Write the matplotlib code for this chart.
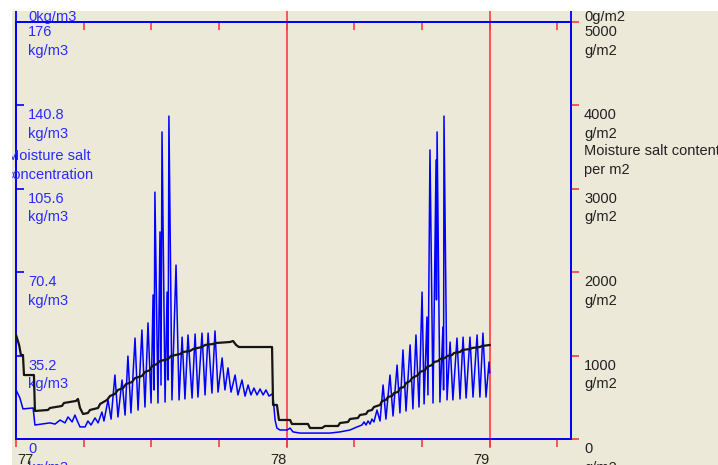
import numpy as np
import matplotlib.pyplot as plt
from matplotlib import font_manager
from matplotlib.patches import Rectangle
from matplotlib.lines import Line2D

# narrow font if there is one, otherwise a smaller regular one
installed = {f.name for f in font_manager.fontManager.ttflist}
if 'Liberation Sans Narrow' in installed:
    plt.rcParams['font.family'] = ['Liberation Sans Narrow', 'DejaVu Sans']
    fs, lsp = 12.5, 1.2
else:
    plt.rcParams['font.family'] = ['Liberation Sans', 'DejaVu Sans']
    fs, lsp = 10.5, 1.42

# -----------------------------
# Data
# -----------------------------
# moisture salt concentration (kg/m3), time in years
conc_year = [76.667, 76.686, 76.701, 76.751, 76.760, 76.834, 76.859, 76.884, 76.908, 76.923,
             76.943, 76.957, 76.967, 76.982, 77.007, 77.021, 77.036, 77.056, 77.071, 77.090,
             77.100, 77.120, 77.135, 77.154, 77.169, 77.189, 77.204, 77.218, 77.233, 77.253,
             77.268, 77.287, 77.302, 77.317, 77.332, 77.342, 77.347, 77.351, 77.366, 77.376,
             77.381, 77.386, 77.401, 77.411, 77.416, 77.420, 77.435, 77.455, 77.470, 77.485,
             77.499, 77.514, 77.534, 77.549, 77.563, 77.583, 77.598, 77.613, 77.632, 77.647,
             77.662, 77.682, 77.696, 77.711, 77.726, 77.746, 77.760, 77.780, 77.795, 77.810,
             77.824, 77.839, 77.854, 77.869, 77.884, 77.898, 77.913, 77.928, 77.933, 77.943,
             77.952, 77.967, 78.002, 78.017, 78.031, 78.066, 78.214, 78.263, 78.312, 78.347,
             78.371, 78.381, 78.391, 78.401, 78.411, 78.420, 78.430, 78.445, 78.460, 78.475,
             78.489, 78.509, 78.524, 78.544, 78.558, 78.573, 78.588, 78.608, 78.622, 78.637,
             78.652, 78.667, 78.677, 78.691, 78.696, 78.706, 78.721, 78.736, 78.738, 78.741,
             78.755, 78.770, 78.773, 78.775, 78.790, 78.805, 78.819, 78.839, 78.854, 78.869,
             78.884, 78.903, 78.918, 78.938, 78.952, 78.967, 78.982, 78.997, 79.000]
conc = [20.7, 17.3, 12.7, 13.1, 5.9, 6.8, 6.3, 8.0, 6.8, 9.3,
        7.2, 10.1, 8.0, 5.1, 5.1, 7.6, 5.9, 8.9, 6.8, 11.4,
        7.6, 16.5, 8.4, 27.0, 9.3, 24.9, 10.1, 35.0, 11.0, 42.6,
        12.2, 46.0, 13.5, 49.0, 15.2, 60.8, 20.7, 104.2, 15.2, 87.4,
        22.8, 129.6, 15.6, 62.0, 24.9, 136.3, 16.5, 73.4, 16.5, 43.0,
        16.9, 43.9, 17.3, 44.3, 17.7, 44.7, 18.6, 44.7, 19.4, 45.6,
        19.8, 34.2, 20.7, 30.0, 19.8, 27.0, 18.6, 24.9, 18.1, 22.8,
        18.6, 21.5, 18.6, 21.1, 18.6, 20.7, 18.1, 19.0, 17.7, 8.0,
        4.6, 3.8, 3.8, 4.6, 3.0, 2.5, 2.5, 3.0, 3.8, 5.1,
        5.9, 7.2, 5.9, 7.6, 6.3, 8.4, 7.2, 12.2, 7.6, 22.8,
        8.4, 27.0, 9.7, 31.2, 11.0, 37.6, 11.8, 39.7, 12.7, 43.9,
        13.5, 62.0, 14.8, 51.5, 18.6, 122.0, 15.2, 117.8, 58.7, 129.6,
        15.6, 47.3, 20.7, 136.3, 16.5, 40.9, 16.5, 42.6, 16.9, 43.0,
        17.3, 43.0, 17.7, 43.9, 17.7, 44.7, 17.7, 32.5, 28.0]

# moisture salt content per m2 (g/m2)
content_year = [76.667, 76.682, 76.691, 76.701, 76.706, 76.755, 76.760, 76.824, 76.834, 76.893,
                76.903, 76.962, 76.972, 76.982, 76.997, 77.021, 77.031, 77.071, 77.081, 77.115,
                77.130, 77.154, 77.169, 77.194, 77.209, 77.238, 77.253, 77.287, 77.302, 77.327,
                77.337, 77.361, 77.376, 77.416, 77.430, 77.475, 77.489, 77.524, 77.539, 77.583,
                77.598, 77.637, 77.652, 77.721, 77.736, 77.751, 77.765, 77.928, 77.933, 77.952,
                77.962, 78.017, 78.026, 78.105, 78.115, 78.174, 78.189, 78.253, 78.263, 78.302,
                78.312, 78.351, 78.361, 78.391, 78.401, 78.420, 78.430, 78.460, 78.470, 78.489,
                78.499, 78.519, 78.529, 78.549, 78.558, 78.578, 78.588, 78.608, 78.618, 78.647,
                78.657, 78.682, 78.691, 78.716, 78.726, 78.746, 78.755, 78.780, 78.790, 78.815,
                78.824, 78.854, 78.864, 78.903, 78.913, 78.952, 78.962, 79.000]
content = [1247, 1127, 1007, 1007, 767, 767, 336, 348, 372, 396,
           432, 456, 480, 372, 300, 312, 348, 372, 420, 468,
           516, 540, 588, 611, 659, 683, 731, 755, 803, 827,
           875, 899, 935, 959, 995, 1019, 1043, 1055, 1079, 1103,
           1127, 1139, 1151, 1163, 1175, 1127, 1103, 1103, 408, 408,
           228, 228, 180, 180, 132, 132, 156, 156, 192, 204,
           240, 252, 288, 300, 336, 348, 384, 408, 456, 468,
           504, 516, 552, 564, 611, 623, 671, 695, 731, 767,
           803, 827, 863, 887, 923, 935, 959, 971, 995, 1007,
           1031, 1043, 1067, 1079, 1091, 1103, 1115, 1127]

conc_ticks = [0, 35.2, 70.4, 105.6, 140.8, 176]
content_ticks = [0, 1000, 2000, 3000, 4000, 5000]
year_ticks = [76.667, 77, 77.333, 77.667, 78, 78.333, 78.667, 79, 79.333]
year_labels = ["77", "78", "79"]
year_label_pos = [76.667, 78, 79]
marker_years = [78, 79]

# -----------------------------
# Figure
# -----------------------------
W, H = 718, 465
bg = '#ECE9D8'
blue = '#0000ff'
blue_txt = '#2a2aff'
red = '#ff3a3a'
dark = '#222222'

fig = plt.figure(figsize=(W / 100, H / 100), dpi=100, facecolor=bg)
ax = fig.add_axes([16 / W, 1 - 439 / H, 555 / W, 417 / H])
ax.set_facecolor('none')
ax.set_xlim(76.6667, 76.6667 + 555 / 203)
ax.set_ylim(0, 176)

ax2 = ax.twinx()
ax2.set_ylim(0, 5000)
ax2.set_zorder(ax.get_zorder() + 1)
ax2.patch.set_visible(False)

ax.plot(conc_year, conc, color=blue, lw=1.1, zorder=3)
ax2.plot(content_year, content, color='#151515', lw=1.6, zorder=4)

for yr in marker_years:
    ax.axvline(yr, ymin=-8 / 417, ymax=1 + 11 / 417, color=red, lw=1.2,
               clip_on=False, zorder=1)

# axes lines and ticks
for a in (ax, ax2):
    for s in a.spines.values():
        s.set_color(blue)
        s.set_linewidth(1.3)

ax.set_xticks(year_ticks)
ax.tick_params(axis='x', direction='out', length=6, width=1.2, color=red,
               labelbottom=False)
top = ax.secondary_xaxis('top')
top.set_xticks(year_ticks)
top.tick_params(direction='in', length=6, width=1.2, color=red, labeltop=False)
top.spines['top'].set_color(blue)
top.spines['top'].set_linewidth(1.3)

ax.set_yticks(conc_ticks)
ax.tick_params(axis='y', direction='in', length=6, width=1.2, color=blue,
               labelleft=False)
ax2.set_yticks(content_ticks)
ax2.tick_params(axis='y', direction='out', length=6, width=1.2, color=red,
                labelright=False)

# short stubs of the axis lines above the frame
for px in (16, 571):
    fig.add_artist(Line2D([px / W, px / W], [1 - 11 / H, 1 - 22 / H],
                          color=blue, lw=1.3))

# -----------------------------
# Labels
# -----------------------------
for v in conc_ticks:
    ax.annotate(f"{v:g}\nkg/m3", xy=(0, v), xycoords=ax.get_yaxis_transform(),
                xytext=(12, -3), textcoords='offset pixels', ha='left', va='top',
                color=blue_txt, fontsize=fs, linespacing=lsp, annotation_clip=False)
ax.annotate("0kg/m3", xy=(0, 176), xycoords=ax.get_yaxis_transform(),
            xytext=(12, 12), textcoords='offset pixels', ha='left', va='top',
            color=blue_txt, fontsize=fs, annotation_clip=False)

for v in content_ticks:
    ax2.annotate(f"{v:g}\ng/m2", xy=(1, v), xycoords=ax2.get_yaxis_transform(),
                 xytext=(13, -3), textcoords='offset pixels', ha='left', va='top',
                 color=dark, fontsize=fs, linespacing=lsp, annotation_clip=False)
ax2.annotate("0g/m2", xy=(1, 5000), xycoords=ax2.get_yaxis_transform(),
             xytext=(13, 12), textcoords='offset pixels', ha='left', va='top',
             color=dark, fontsize=fs, annotation_clip=False)

for pos, lbl in zip(year_label_pos, year_labels):
    ha = 'left' if lbl == "77" else 'right'
    ax.annotate(lbl, xy=(pos, 0), xycoords=ax.get_xaxis_transform(),
                xytext=(1 if ha == 'left' else 0, -14), textcoords='offset pixels',
                ha=ha, va='top', color=dark, fontsize=fs, annotation_clip=False)

fig.text(49 / W, 1 - 149 / H, "Moisture salt\nconcentration", ha='center', va='top',
         multialignment='center', color=blue_txt, fontsize=fs, linespacing=lsp)
fig.text(584 / W, 1 - 144 / H, "Moisture salt content\nper m2", ha='left', va='top',
         color=dark, fontsize=fs, linespacing=lsp)

# white window border at top and left
fig.add_artist(Rectangle((0, 1 - 11 / H), 1, 11 / H, transform=fig.transFigure,
                         facecolor='white', edgecolor='none', zorder=20))
fig.add_artist(Rectangle((0, 0), 12 / W, 1, transform=fig.transFigure,
                         facecolor='white', edgecolor='none', zorder=20))

fig.savefig("out.png", dpi=100, facecolor=bg)
